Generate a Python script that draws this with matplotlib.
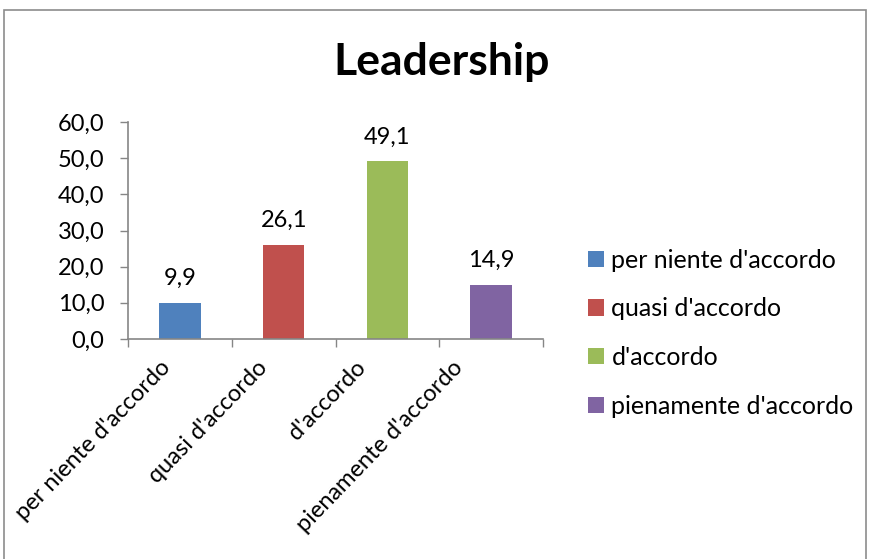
import matplotlib.pyplot as plt
from matplotlib.patches import Rectangle, Patch

categories = ["per niente d'accordo", "quasi d'accordo", "d'accordo", "pienamente d'accordo"]
values = [9.9, 26.1, 49.1, 14.9]
colors = ["#4F81BD", "#C0504D", "#9BBB59", "#8064A2"]
yticks = [0, 10, 20, 30, 40, 50, 60]

plt.rcParams["font.family"] = ["Lato", "DejaVu Sans"]
FS = 17

fig = plt.figure(figsize=(8.7, 5.59), dpi=100)
fig.patches.append(Rectangle((4 / 870, -0.05), 862 / 870, 1 - 10 / 559 + 0.05,
                             transform=fig.transFigure, fill=False,
                             edgecolor="#8c8c8c", linewidth=1.2))

ax = fig.add_axes([128 / 870, 1 - 339 / 559, 415 / 870, 217 / 559])
x = range(len(categories))
ax.bar(x, values, width=0.4, color=colors)

for i, v in enumerate(values):
    ax.annotate(f"{v:.1f}".replace(".", ","), (i, v), xytext=(0, 10),
                textcoords="offset points", ha="center", va="bottom", fontsize=FS)

ax.set_xlim(-0.5, len(categories) - 0.5)
ax.set_ylim(0, 60)
ax.set_yticks(yticks)
ax.set_yticklabels([f"{t:.1f}".replace(".", ",") for t in yticks], fontsize=FS)
ax.set_xticks([i - 0.5 for i in range(len(categories) + 1)])
ax.set_xticklabels([])
ax.tick_params(axis="both", direction="out", length=6, color="#868686", width=1)
ax.tick_params(axis="y", pad=11)
# Excel drifts the rotated labels a little to the left
for i, c in enumerate(categories):
    ax.text(i - 0.2 - 0.06 * i, -5, c, rotation=46, ha="right", va="top",
            rotation_mode="anchor", fontsize=FS, transform=ax.transData)

for s in ["top", "right"]:
    ax.spines[s].set_visible(False)
for s in ["left", "bottom"]:
    ax.spines[s].set_color("#868686")
    ax.spines[s].set_linewidth(1.2)

fig.text(442 / 870, 1 - 62 / 559, "Leadership", ha="center", va="center",
         fontsize=32, fontweight="bold")

handles = [Patch(facecolor=c, label=l) for c, l in zip(colors, categories)]
fig.legend(handles=handles, loc="upper left", bbox_to_anchor=(566 / 870, 1 - 226 / 559),
           frameon=False, fontsize=18, handlelength=0.62, handleheight=0.62,
           handletextpad=0.3, labelspacing=1.03)

fig.savefig("out.png", dpi=100)
